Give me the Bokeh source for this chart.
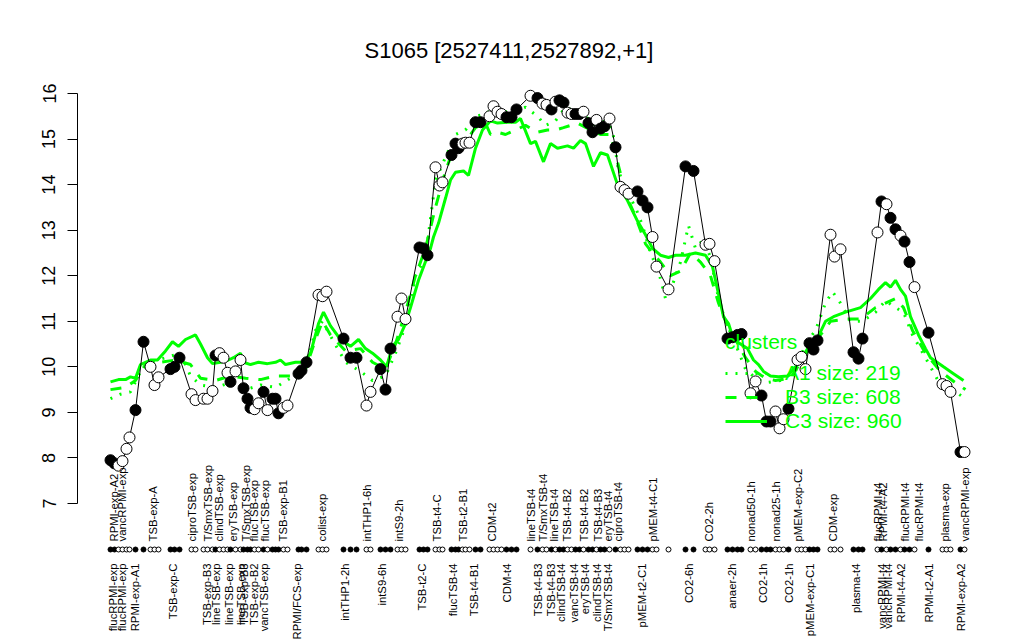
import math
from bokeh.plotting import figure
from bokeh.models import Range1d, FixedTicker, Legend, LegendItem
from bokeh.embed import file_html
from bokeh.resources import INLINE
from bokeh.core.properties import value

# ---------------- data ----------------
title_text = "S1065 [2527411,2527892,+1]"
y_ticks = [7, 8, 9, 10, 11, 12, 13, 14, 15, 16]

# position of each condition along the x axis, its expression value, and whether it is drawn filled
point_pos = [110, 114, 118, 122, 126, 129, 135, 143, 150, 154, 158, 170, 174, 179, 191, 195, 203, 207, 212,
             215, 219, 223, 227, 230, 235, 240, 243, 247, 250, 254, 258, 263, 267, 272, 275, 278, 283, 287,
             298, 301, 306, 318, 322, 326, 343, 350, 356, 366, 370, 380, 385, 390, 397, 401, 405,
             419, 423, 427, 435, 439, 442, 451, 455, 458, 462, 465, 469, 475, 480,
             489, 493, 497, 501, 506, 511, 516, 530, 537, 542, 546, 551, 555, 559, 563, 567, 571,
             575, 579, 583, 588, 592, 596, 600, 604, 609, 615, 620, 624, 628, 637, 642, 647, 652, 656,
             668, 685, 693, 705, 709, 714, 727, 732, 737, 741, 750, 755, 761, 766, 770, 775, 779, 783,
             788, 797, 801, 805, 809, 813, 817, 830, 834, 840, 853, 858, 862, 877, 881, 886, 890, 895,
             900, 904, 909, 914, 928, 942, 946, 950, 960, 964]
point_val = [7.95, 7.88, 7.83, 7.93, 8.2, 8.45, 9.05, 10.55, 10.0, 9.6, 9.77, 9.95, 10.0, 10.2, 9.4, 9.27, 9.3, 9.3, 9.47,
             10.25, 10.3, 10.2, 9.87, 9.67, 9.9, 10.15, 9.53, 9.3, 9.1, 9.07, 9.2, 9.45, 9.05, 9.3, 9.3, 8.98, 9.1, 9.15,
             9.85, 9.92, 10.1, 11.58, 11.55, 11.65, 10.62, 10.2, 10.2, 9.15, 9.45, 9.95, 9.5, 10.4, 11.1, 11.5, 11.05,
             12.62, 12.6, 12.45, 14.38, 13.98, 14.05, 14.65, 14.9, 14.8, 14.9, 14.92, 14.92, 15.37, 15.37,
             15.5, 15.72, 15.6, 15.55, 15.48, 15.48, 15.65, 15.95, 15.9, 15.78, 15.75, 15.65, 15.82, 15.85, 15.8, 15.58, 15.55,
             15.55, 15.55, 15.6, 15.35, 15.15, 15.42, 15.23, 15.28, 15.45, 14.82, 13.95, 13.88, 13.8, 13.85, 13.65, 13.5, 12.85, 12.2,
             11.7, 14.4, 14.3, 12.68, 12.7, 12.32, 10.62, 10.65, 10.7, 10.72, 9.42, 9.68, 9.37, 8.8, 8.8, 9.02, 8.65, 8.85,
             9.08, 10.15, 10.22, 9.95, 10.52, 10.38, 10.58, 12.9, 12.42, 12.58, 10.32, 10.18, 10.62, 12.95, 13.63, 13.57, 13.27, 13.02,
             12.88, 12.75, 12.3, 11.75, 10.75, 9.62, 9.58, 9.45, 8.13, 8.13]
point_filled = [1, 1, 0, 0, 0, 0, 1, 1, 0, 0, 0, 1, 1, 1, 0, 0, 0, 0, 0,
                1, 0, 0, 0, 1, 0, 0, 1, 1, 1, 0, 0, 1, 0, 1, 1, 1, 0, 0,
                1, 1, 1, 0, 0, 0, 1, 1, 1, 0, 0, 1, 1, 1, 0, 0, 0,
                1, 1, 1, 0, 0, 0, 1, 1, 1, 0, 0, 0, 1, 1,
                0, 0, 0, 0, 1, 1, 1, 0, 1, 0, 0, 1, 0, 1, 1, 0, 0,
                1, 1, 0, 1, 1, 0, 1, 1, 0, 1, 0, 0, 0, 1, 1, 1, 0, 0,
                0, 1, 1, 0, 0, 0, 1, 1, 1, 1, 0, 0, 1, 1, 1, 0, 0, 0,
                1, 0, 0, 0, 1, 1, 1, 0, 0, 0, 1, 1, 1, 0, 1, 0, 1, 1,
                0, 1, 1, 0, 1, 0, 0, 0, 1, 0]

bottom_labels = ["flucRPMI-exp", "flucRPMI-exp", "RPMI-exp-A1", "TSB-exp-C", "TSB-exp-B3", "lineTSB-exp",
                 "lineTSB-exp", "lineTSB-exp", "TSB-exp-B3", "TSB-exp-B2", "vancTSB-exp", "RPMI/FCS-exp",
                 "intTHP1-2h", "intS9-6h", "TSB-t2-C", "flucTSB-t4", "TSB-t4-B1", "CDM-t4", "TSB-t4-B3",
                 "TSB-t4-B3", "clindTSB-t4", "vancTSB-t4", "eryTSB-t4", "clindTSB-t4", "T/SmxTSB-t4",
                 "pMEM-t2-C1", "CO2-6h", "anaer-2h", "CO2-1h", "CO2-1h", "pMEM-exp-C1", "plasma-t4",
                 "vancRPMI-t4", "vancRPMI-t4", "RPMI-t4-A2", "RPMI-t2-A1", "RPMI-exp-A2"]
bottom_label_pos = [112, 121, 134, 172, 206, 215, 228, 240, 243, 253, 263, 296, 344, 381, 421, 452, 473, 506, 537,
                    550, 560, 573, 584, 596, 607, 641, 688, 731, 762, 788, 809, 855, 881, 887, 900, 928, 960]
top_labels = ["RPMI-exp-A2", "vancRPMI-exp", "TSB-exp-A", "ciproTSB-exp", "T/SmxTSB-exp", "clindTSB-exp",
              "eryTSB-exp", "T/SmxTSB-exp", "flucTSB-exp", "flucTSB-exp", "TSB-exp-B1", "colist-exp",
              "intTHP1-6h", "intS9-2h", "TSB-t4-C", "TSB-t2-B1", "CDM-t2", "lineTSB-t4", "T/SmxTSB-t4",
              "lineTSB-t4", "TSB-t4-B2", "TSB-t4-B2", "TSB-t4-B3", "eryTSB-t4", "ciproTSB-t4", "pMEM-t4-C1",
              "CO2-2h", "nonad50-1h", "nonad25-1h", "pMEM-exp-C2", "CDM-exp", "flucRPMI-t4", "RPMI-t4-A2",
              "flucRPMI-t4", "flucRPMI-t4", "plasma-exp", "vancRPMI-exp"]
top_label_pos = [113, 121, 152, 191, 207, 218, 232, 245, 253, 264, 282, 321, 366, 398, 436, 462, 491, 530, 542,
                 553, 566, 583, 597, 607, 617, 652, 708, 750, 775, 797, 832, 877, 882, 904, 918, 944, 964]

cluster_title = "clusters"
cluster_names = ["A1 size: 219", "B3 size: 608", "C3 size: 960"]

a1_pos = [110, 120, 130, 140, 150, 165, 180, 190, 200, 215, 230, 245, 260, 275, 290, 305, 315, 322, 332, 345,
          360, 372, 385, 395, 405, 415, 425, 435, 445, 455, 465, 475, 485, 495, 505, 515, 525, 537, 545, 555,
          565, 575, 585, 595, 605, 612, 618, 625, 635, 642, 650, 658, 665, 672, 680, 688, 695, 703, 710, 718,
          725, 735, 745, 755, 765, 780, 795, 805, 815, 825, 832, 840, 850, 862, 875, 885, 895, 903, 912, 925,
          940, 955, 965]
a1_val = [9.3, 9.4, 9.45, 9.9, 10.1, 10.2, 10.3, 9.8, 9.6, 9.55, 9.65, 9.5, 9.6, 9.55, 9.75, 9.95, 10.8, 11.0, 10.6, 10.1,
          9.9, 9.7, 9.8, 10.3, 10.9, 12.0, 12.4, 14.1, 14.6, 15.1, 15.2, 15.5, 15.55, 15.7, 15.6, 15.6, 15.7, 15.5, 15.3, 15.4,
          15.7, 15.6, 15.5, 15.3, 15.4, 15.2, 14.3, 13.9, 13.5, 13.1, 12.5, 12.1, 11.5, 11.8, 12.3, 13.1, 12.6, 12.8, 12.4, 11.5,
          11.0, 10.5, 9.95, 9.75, 9.65, 9.7, 9.9, 10.5, 10.8, 11.4, 11.65, 11.4, 11.0, 11.0, 11.2, 11.45, 11.3, 11.2, 10.7, 10.2,
          9.6, 9.45, 9.3]

b3_pos = [110, 125, 135, 145, 160, 175, 190, 200, 215, 230, 245, 260, 275, 290, 305, 315, 322, 330, 345, 360,
          372, 385, 395, 405, 415, 425, 435, 445, 455, 465, 475, 485, 490, 497, 505, 515, 525, 537, 547, 555,
          563, 577, 590, 600, 610, 617, 625, 635, 645, 652, 660, 670, 680, 690, 700, 710, 718, 725, 735, 745,
          755, 765, 775, 790, 800, 810, 820, 830, 845, 860, 875, 885, 895, 903, 912, 925, 940, 955, 965]
b3_val = [9.5, 9.55, 9.7, 10.05, 10.1, 10.15, 10.05, 9.75, 9.7, 9.8, 9.75, 9.72, 9.8, 9.8, 9.95, 10.6, 11.0, 10.7, 10.35, 10.4,
          10.1, 9.95, 10.5, 11.2, 12.0, 12.6, 13.5, 14.3, 14.9, 14.95, 15.25, 15.35, 15.1, 15.15, 15.1, 15.2, 15.3, 15.15, 15.2, 15.2,
          15.25, 15.35, 15.2, 15.1, 15.1, 14.5, 13.8, 13.3, 12.7, 12.5, 12.3, 12.0, 12.1, 12.5, 12.3, 12.0, 11.4, 11.0, 10.6, 10.2,
          9.9, 9.75, 9.7, 9.75, 10.1, 10.45, 10.7, 11.0, 11.05, 11.05, 11.3, 11.4, 11.5, 11.3, 10.8, 10.3, 9.9, 9.65, 9.5]

c3_pos = [110, 118, 125, 130, 135, 140, 150, 157, 165, 172, 178, 185, 195, 200, 207, 212, 220, 228, 233, 240,
          243, 250, 258, 267, 275, 280, 285, 295, 303, 310, 318, 323, 330, 340, 350, 358, 365, 372, 380, 386,
          392, 398, 405, 410, 418, 424, 430, 433, 438, 445, 450, 455, 463, 468, 475, 482, 490, 497, 507, 515,
          520, 530, 535, 543, 550, 557, 567, 573, 580, 585, 593, 600, 607, 617, 627, 637, 645, 652, 660, 668,
          675, 685, 695, 705, 712, 718, 723, 728, 733, 740, 747, 753, 758, 763, 770, 778, 787, 795, 802, 807,
          817, 825, 833, 845, 860, 870, 878, 885, 890, 895, 900, 905, 910, 918, 925, 930, 943, 953, 963]
c3_val = [9.67, 9.72, 9.72, 9.78, 9.75, 10.05, 10.15, 10.15, 10.35, 10.55, 10.45, 10.6, 10.7, 10.5, 10.2, 10.07, 10.1, 10.15, 10.2, 10.3,
          10.1, 10.05, 10.1, 10.07, 10.1, 10.15, 10.05, 10.1, 10.1, 10.3, 10.95, 11.2, 10.9, 10.6, 10.45, 10.6, 10.4, 10.3, 10.15, 10.0,
          10.45, 10.6, 10.95, 11.3, 11.9, 12.25, 12.6, 12.85, 13.15, 13.7, 14.1, 14.27, 14.3, 14.2, 14.8, 15.2, 15.4, 15.35, 15.37, 15.37,
          15.45, 14.9, 14.95, 14.5, 14.9, 14.8, 14.85, 14.8, 14.97, 14.9, 14.4, 14.7, 14.65, 14.0, 13.65, 13.2, 12.9, 12.6, 12.45, 12.4,
          12.45, 12.45, 12.5, 12.45, 12.2, 11.6, 11.1, 10.95, 10.6, 10.5, 10.4, 10.15, 10.05, 9.9, 9.8, 9.78, 9.8, 10.0, 10.2, 10.4,
          10.63, 11.0, 11.1, 11.2, 11.3, 11.5, 11.7, 11.85, 11.75, 11.9, 11.7, 11.55, 11.1, 10.7, 10.4, 10.2, 10.0, 9.85, 9.7]

# ---------------- layout ----------------
W, H = 1016, 640
BORDER_L, BORDER_R, BORDER_T, BORDER_B = 77, 16, 70, 0
FRAME_H = H - BORDER_T - BORDER_B
PX_PER_UNIT = 410.0 / 9.0          # vertical pixels per expression unit
TOP_TICK_PX = 23                   # distance of tick 16 below the frame top
Y_END = 16 + TOP_TICK_PX / PX_PER_UNIT
Y_START = Y_END - FRAME_H / PX_PER_UNIT
X_START = 77
X_END = X_START + (W - BORDER_L - BORDER_R)


def y_at(px_from_frame_top):
    return Y_END - px_from_frame_top / PX_PER_UNIT


RUG_Y = y_at(479)
BOTTOM_LABEL_Y = y_at(493)
TOP_LABEL_Y = y_at(471)

FONT = "Liberation Sans"
GREEN = "#00FF00"

p = figure(width=W, height=H, output_backend="svg", toolbar_location=None,
           x_range=Range1d(X_START, X_END), y_range=Range1d(Y_START, Y_END),
           x_axis_location=None, y_axis_location="left",
           min_border_left=BORDER_L, min_border_right=BORDER_R,
           min_border_top=BORDER_T, min_border_bottom=BORDER_B)
p.grid.visible = False
p.outline_line_color = None
p.background_fill_color = "white"
p.border_fill_color = "white"

p.title.text = title_text
p.title.align = "left"
p.title.offset = 287
p.title.text_font = FONT
p.title.text_font_size = "22px"
p.title.text_font_style = "normal"
p.title.text_color = "black"
p.title.standoff = 15

ax = p.yaxis[0]
ax.ticker = FixedTicker(ticks=y_ticks)
ax.bounds = (y_ticks[0], y_ticks[-1])
ax.major_label_orientation = "vertical"
ax.major_tick_out = 10
ax.major_tick_in = 0
ax.minor_tick_out = 0
ax.minor_tick_in = 0
ax.major_label_standoff = 12
ax.major_label_text_font = FONT
ax.major_label_text_font_size = "18px"
ax.major_label_text_color = "black"
ax.axis_line_color = "black"
ax.major_tick_line_color = "black"

# cluster lines
ra = p.line(a1_pos, a1_val, line_color=GREEN, line_width=3, line_dash="2 8")
rb = p.line(b3_pos, b3_val, line_color=GREEN, line_width=3, line_dash="11 10")
rc = p.line(c3_pos, c3_val, line_color=GREEN, line_width=3)

# data
fills = ["black" if f else "white" for f in point_filled]
p.line(point_pos, point_val, line_color="black", line_width=1)
p.scatter(point_pos, point_val, size=11, marker="circle", fill_color=fills, line_color="black", line_width=1)

# rug
p.scatter(point_pos, [RUG_Y] * len(point_pos), size=5, marker="circle",
          fill_color=fills, line_color="black", line_width=1)

# condition labels
p.text(x=bottom_label_pos, y=[BOTTOM_LABEL_Y] * len(bottom_label_pos), text=bottom_labels,
       angle=math.pi / 2, text_align="right", text_baseline="middle",
       text_font=value(FONT), text_font_size="11.3px", text_color="black")
p.text(x=top_label_pos, y=[TOP_LABEL_Y] * len(top_label_pos), text=top_labels,
       angle=math.pi / 2, text_align="left", text_baseline="middle",
       text_font=value(FONT), text_font_size="11.3px", text_color="black")

legend = Legend(items=[LegendItem(label=cluster_names[0], renderers=[ra]),
                       LegendItem(label=cluster_names[1], renderers=[rb]),
                       LegendItem(label=cluster_names[2], renderers=[rc])],
                title=cluster_title, location=(648, 207))
legend.title_text_font = FONT
legend.title_text_font_size = "21px"
legend.title_text_font_style = "normal"
legend.title_text_color = GREEN
legend.title_standoff = 7
legend.label_text_font = FONT
legend.label_text_font_size = "21px"
legend.label_text_color = GREEN
legend.glyph_width = 42
legend.glyph_height = 20
legend.label_height = 20
legend.label_standoff = 18
legend.spacing = 0
legend.padding = 0
legend.margin = 0
legend.border_line_color = None
legend.background_fill_alpha = 0
p.add_layout(legend)

open("out.html", "w").write(file_html(p, INLINE))
